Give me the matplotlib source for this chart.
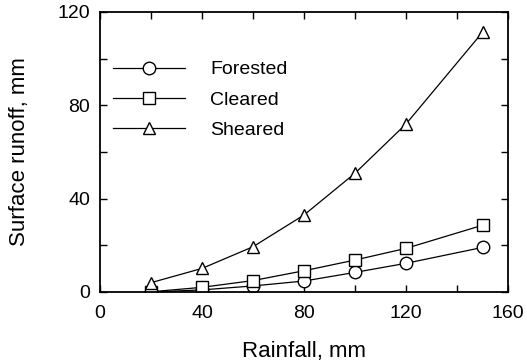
import matplotlib
matplotlib.use("Agg")
import matplotlib.pyplot as plt
from matplotlib.ticker import MultipleLocator

# --- Data ---
rainfall = [20, 40, 60, 80, 100, 120, 150]
forested = [0.0, 0.9, 2.6, 4.7, 8.4, 12.3, 19.1]
cleared = [0.1, 2.0, 4.9, 9.1, 13.7, 18.7, 28.6]
sheared = [4.0, 10.1, 19.4, 33.0, 50.9, 72.0, 111.3]

x_ticks = [0, 40, 80, 120, 160]
y_ticks = [0, 40, 80, 120]

plt.rcParams['font.family'] = ['Liberation Sans', 'DejaVu Sans']

fig = plt.figure(figsize=(5.27, 3.64), dpi=100)
ax = fig.add_axes([100 / 527, 72 / 364, 408 / 527, 280 / 364])

style = dict(color='black', linewidth=0.9, markerfacecolor='white',
             markeredgecolor='black', markeredgewidth=1.0)
ax.plot(rainfall, forested, marker='o', markersize=9, label='Forested', **style)
ax.plot(rainfall, cleared, marker='s', markersize=8.5, label='Cleared', **style)
ax.plot(rainfall, sheared, marker='^', markersize=9, label='Sheared', **style)

ax.set_xlim(0, 160)
ax.set_ylim(0, 120)
ax.set_xticks(x_ticks)
ax.set_yticks(y_ticks)
ax.xaxis.set_minor_locator(MultipleLocator(20))
ax.yaxis.set_minor_locator(MultipleLocator(20))
ax.tick_params(which='both', direction='in', top=True, right=True,
               length=5, width=1, labelsize=14)
ax.tick_params(axis='x', pad=9)
ax.tick_params(axis='y', pad=7)
for s in ax.spines.values():
    s.set_linewidth(1.3)

ax.set_xlabel('Rainfall, mm', fontsize=16, labelpad=14)
ax.set_ylabel('Surface runoff, mm', fontsize=16, labelpad=20)

ax.legend(loc='upper left', bbox_to_anchor=(0.032, 0.826), frameon=False,
          borderaxespad=0, borderpad=0, fontsize=14, handlelength=3.7,
          handletextpad=1.3, labelspacing=0.65)

fig.savefig('out.png', dpi=100)
